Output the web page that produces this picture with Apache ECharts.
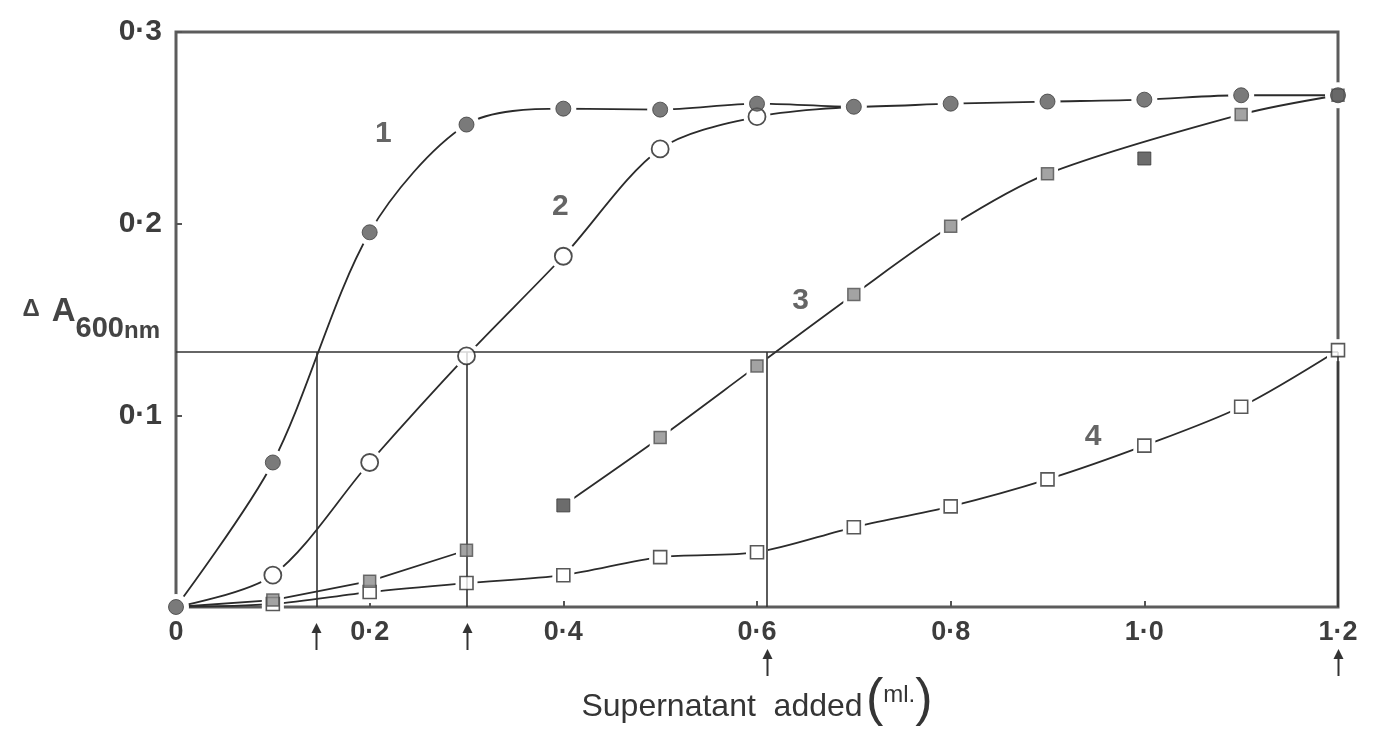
<!DOCTYPE html>
<html>
<head>
<meta charset="utf-8">
<script src="https://cdn.jsdelivr.net/npm/echarts@6/dist/echarts.min.js"></script>
<style>
  html, body { margin: 0; padding: 0; background: #ffffff; }
  #chart { width: 1383px; height: 735px; }
</style>
</head>
<body>
<div id="chart"></div>
<script>
// Supernatant volume (ml) at which each reading was taken
const volume = [0, 0.1, 0.2, 0.3, 0.4, 0.5, 0.6, 0.7, 0.8, 0.9, 1.0, 1.1, 1.2];

// Curve 1 (filled circles), all volumes
const curve1 = [0, 0.0754, 0.1955, 0.2517, 0.260, 0.2595, 0.2626, 0.261, 0.2626, 0.2637, 0.2647, 0.267, 0.267];

// Curve 2 (open circles), volumes 0 - 0.6; afterwards it runs into the plateau of curve 1
const curve2 = [0, 0.0166, 0.0754, 0.131, 0.183, 0.239, 0.2558];

// Curve 3 (shaded squares): low-volume readings 0 - 0.3
const curve3Low = [0, 0.0036, 0.0135, 0.0296];
// Curve 3 main branch
const curve3X = [0.4, 0.5, 0.6, 0.7, 0.8, 0.9, 1.1, 1.2];
const curve3Y = [0.053, 0.0884, 0.1258, 0.163, 0.1986, 0.226, 0.257, 0.267];
// Solid squares (0.4 starts the main branch, 1.0 lies off the drawn curve)
const solidX = [0.4, 1.0];
const solidY = [0.053, 0.234];

// Curve 4 (open squares), all volumes
const curve4 = [0, 0.0016, 0.0078, 0.0125, 0.0166, 0.026, 0.0286, 0.0416, 0.0525, 0.0666, 0.0842, 0.1045, 0.134];

// Half-maximal response and the volumes that reach it
const halfMax = 0.133;
const dropX = [0.145, 0.3, 0.61, 1.2];

// Tick labels
const xTickLabels = ['0', '0\u00b72', '0\u00b74', '0\u00b76', '0\u00b78', '1\u00b70', '1\u00b72'];
const yTickLabels = ['', '0\u00b71', '0\u00b72', '0\u00b73'];

// Curve numbers and where they sit (data units)
const curveNames = ['1', '2', '3', '4'];
const curveNameX = [0.214, 0.397, 0.645, 0.947];
const curveNameY = [0.247, 0.209, 0.160, 0.0887];

const INK = '#2b2b2b';
const SANS = "'Liberation Sans','Arimo',Arial,sans-serif";

const zip = (xs, ys) => ys.map((y, i) => [xs[i], y]);

const pts1 = zip(volume, curve1);
const pts2 = zip(volume, curve2).concat([[volume[curve2.length], curve1[curve2.length]]]);
const pts3Low = zip(volume, curve3Low);
const pts3 = zip(curve3X, curve3Y);
const ptsSolid = zip(solidX, solidY);
const pts4 = zip(volume, curve4);

function curveLine(points, smooth) {
  return {
    type: 'line', data: points, symbol: 'none', showSymbol: false,
    smooth: smooth, clip: false, silent: true, z: 2,
    lineStyle: { color: INK, width: 1.8 }
  };
}

function markerSet(points, symbol, size, itemStyle, z) {
  return {
    type: 'scatter', data: points, symbol: symbol, symbolSize: size,
    clip: false, silent: true, z: z, itemStyle: itemStyle
  };
}

// white rings that open small gaps in the lines around each marker
function halo(points, symbol, size) {
  return markerSet(points, symbol, size, { color: '#ffffff', opacity: 1 }, 3);
}

const notOrigin = p => p[0] !== 0;
const filledStyle = { color: '#595959', borderColor: '#3e3e3e', borderWidth: 1 };
const openCircleStyle = { color: '#ffffff', borderColor: '#222222', borderWidth: 1.8 };
const shadedStyle = { color: '#8c8c8c', borderColor: '#505050', borderWidth: 1.5 };
const solidStyle = { color: '#474747', borderColor: '#3a3a3a', borderWidth: 1 };
const openSquareStyle = { color: '#ffffff', borderColor: '#2e2e2e', borderWidth: 1.6 };

const markers1 = pts1;
const markers2 = zip(volume, curve2).filter(notOrigin);
const markers3Low = pts3Low.filter(notOrigin);
const markers3 = pts3.filter(p => solidX.indexOf(p[0]) < 0);
const markers4 = pts4.filter(notOrigin);

const chart = echarts.init(document.getElementById('chart'), null, { renderer: 'canvas' });

const labelFont = { fontFamily: SANS, fontWeight: 'bold', color: '#3d3d3d' };

const option = {
  animation: false,
  backgroundColor: '#ffffff',
  grid: {
    left: 176, right: 45, top: 32, bottom: 128,
    containLabel: false, outerBoundsMode: 'none',
    show: true, borderColor: '#5c5c5c', borderWidth: 3, backgroundColor: 'transparent'
  },
  xAxis: {
    type: 'value', min: 0, max: 1.2, interval: 0.2,
    axisLine: { show: false },
    axisTick: { show: true, inside: true, length: 6, lineStyle: { color: '#555', width: 2 } },
    splitLine: { show: false },
    axisLabel: Object.assign({
      margin: 12, fontSize: 27,
      formatter: v => xTickLabels[Math.round(v * 5)]
    }, labelFont),
    name: '{t|Supernatant  added} {p|(}{u|ml.}{p|)}',
    nameLocation: 'middle', nameGap: 68, nameMoveOverlap: false,
    nameTextStyle: {
      rich: {
        t: { fontFamily: SANS, fontSize: 32, color: '#353535', verticalAlign: 'bottom', lineHeight: 52, padding: [0, 0, 4, 0] },
        p: { fontFamily: SANS, fontSize: 52, color: '#353535', lineHeight: 52 },
        u: { fontFamily: SANS, fontSize: 24, color: '#353535', verticalAlign: 'top', lineHeight: 52, padding: [8, 0, 0, 0] }
      }
    }
  },
  yAxis: {
    type: 'value', min: 0, max: 0.3, interval: 0.1,
    axisLine: { show: false },
    axisTick: { show: true, inside: true, length: 6, lineStyle: { color: '#555', width: 2 } },
    splitLine: { show: false },
    axisLabel: Object.assign({
      margin: 14, fontSize: 30,
      formatter: v => yTickLabels[Math.round(v * 10)]
    }, labelFont),
    name: '{d|\u0394}{a|A}{s|600}{n|nm}',
    nameLocation: 'middle', nameRotate: 0, nameGap: 16, nameMoveOverlap: false,
    nameTextStyle: {
      align: 'right',
      rich: {
        d: { fontFamily: SANS, fontWeight: 'bold', fontSize: 24, color: '#444', verticalAlign: 'top', lineHeight: 48, padding: [2, 12, 0, 0] },
        a: { fontFamily: SANS, fontWeight: 'bold', fontSize: 33, color: '#444', verticalAlign: 'top', lineHeight: 48 },
        s: { fontFamily: SANS, fontWeight: 'bold', fontSize: 29, color: '#444', verticalAlign: 'bottom', lineHeight: 48 },
        n: { fontFamily: SANS, fontWeight: 'bold', fontSize: 24, color: '#444', verticalAlign: 'bottom', lineHeight: 48 }
      }
    }
  },
  series: [
    // curves
    curveLine(pts1, 0.3),
    curveLine(pts2, 0.3),
    curveLine(pts3Low, 0),
    curveLine(pts3, 0.3),
    curveLine(pts4, 0.3),

    // gaps around markers
    halo(markers1, 'circle', 26),
    halo(markers2, 'circle', 27),
    halo(markers3Low, 'rect', 21),
    halo(markers3, 'rect', 21),
    halo(ptsSolid, 'rect', 22),
    halo(markers4, 'rect', 22),

    // half-maximum guide lines
    {
      type: 'line', data: [], silent: true, z: 4,
      markLine: {
        silent: true, symbol: 'none', label: { show: false },
        lineStyle: { color: '#333333', width: 1.6, type: 'solid' },
        data: [[{ coord: [0, halfMax] }, { coord: [1.2, halfMax] }]].concat(
          dropX.map(x => [{ coord: [x, halfMax] }, { coord: [x, 0] }])
        )
      }
    },

    // markers
    markerSet(markers4, 'rect', 13, openSquareStyle, 5),
    markerSet(markers3Low, 'rect', 12, shadedStyle, 6),
    markerSet(markers3, 'rect', 12, shadedStyle, 6),
    markerSet(ptsSolid, 'rect', 13, solidStyle, 6),
    markerSet(markers2, 'circle', 17, openCircleStyle, 7),
    markerSet(markers1, 'circle', 15, filledStyle, 8),

    // curve numbers
    {
      type: 'scatter', symbolSize: 0, silent: true, clip: false, z: 9,
      data: curveNames.map((n, i) => ({ value: [curveNameX[i], curveNameY[i]], name: n })),
      label: {
        show: true, position: 'inside', formatter: p => p.name,
        fontFamily: SANS, fontWeight: 'bold', fontSize: 30, color: '#3f3f3f'
      }
    }
  ]
};

chart.setOption(option);

// arrows under the x axis marking the half-maximum volumes
const arrows = [];
dropX.forEach(x => {
  const p = chart.convertToPixel({ gridIndex: 0 }, [x, 0]);
  const underLabel = Math.abs(x * 5 - Math.round(x * 5)) < 0.1;
  const top = p[1] + (underLabel ? 42 : 16);
  const px = Math.round(p[0]) + 0.5;
  arrows.push({
    type: 'line', silent: true, z: 10,
    shape: { x1: px, y1: top + 6, x2: px, y2: top + 27 },
    style: { stroke: '#333333', lineWidth: 2 }
  });
  arrows.push({
    type: 'polygon', silent: true, z: 10,
    shape: { points: [[px, top], [px - 5, top + 10], [px + 5, top + 10]] },
    style: { fill: '#333333' }
  });
});
chart.setOption({ graphic: arrows });
</script>
</body>
</html>
